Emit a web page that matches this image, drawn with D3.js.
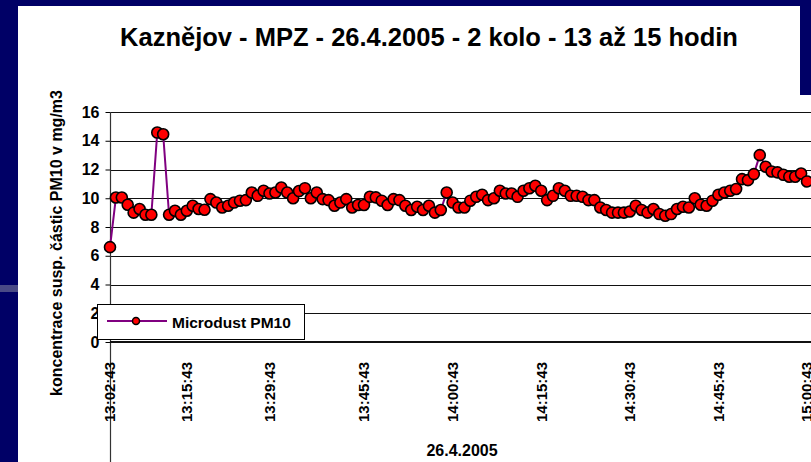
<!DOCTYPE html>
<html>
<head>
<meta charset="utf-8">
<script src="https://cdn.jsdelivr.net/npm/d3@7"></script>
<style>
  body { margin: 0; background: #fff; }
  text { font-family: Arial, "Liberation Sans", sans-serif; font-weight: bold; fill: #000; }
</style>
</head>
<body>
<svg id="chart"></svg>
<script>
// measurement times (one per minute)
const times = [
  "13:02:43","13:03:43","13:04:43","13:05:43","13:06:43","13:07:43","13:08:43","13:09:43","13:10:43","13:11:43",
  "13:12:43","13:13:43","13:14:43","13:15:43","13:16:43","13:17:43","13:18:43","13:19:43","13:20:43","13:21:43",
  "13:22:43","13:23:43","13:24:43","13:25:43","13:26:43","13:27:43","13:28:43","13:29:43","13:30:43","13:31:43",
  "13:32:43","13:33:43","13:34:43","13:35:43","13:36:43","13:37:43","13:38:43","13:39:43","13:40:43","13:41:43",
  "13:42:43","13:43:43","13:44:43","13:45:43","13:46:43","13:47:43","13:48:43","13:49:43","13:50:43","13:51:43",
  "13:52:43","13:53:43","13:54:43","13:55:43","13:56:43","13:57:43","13:58:43","13:59:43","14:00:43","14:01:43",
  "14:02:43","14:03:43","14:04:43","14:05:43","14:06:43","14:07:43","14:08:43","14:09:43","14:10:43","14:11:43",
  "14:12:43","14:13:43","14:14:43","14:15:43","14:16:43","14:17:43","14:18:43","14:19:43","14:20:43","14:21:43",
  "14:22:43","14:23:43","14:24:43","14:25:43","14:26:43","14:27:43","14:28:43","14:29:43","14:30:43","14:31:43",
  "14:32:43","14:33:43","14:34:43","14:35:43","14:36:43","14:37:43","14:38:43","14:39:43","14:40:43","14:41:43",
  "14:42:43","14:43:43","14:44:43","14:45:43","14:46:43","14:47:43","14:48:43","14:49:43","14:50:43","14:51:43",
  "14:52:43","14:53:43","14:54:43","14:55:43","14:56:43","14:57:43","14:58:43","14:59:43","15:00:43"
];

// Microdust PM10
const pm10 = [
  6.6, 10.05, 10.05, 9.55, 9.0, 9.25, 8.85, 8.85, 14.57, 14.45,
  8.85, 9.13, 8.85, 9.13, 9.48, 9.25, 9.2, 9.94, 9.7, 9.36,
  9.48, 9.7, 9.83, 9.87, 10.4, 10.17, 10.52, 10.33, 10.4, 10.75,
  10.4, 10.0, 10.5, 10.7, 10.0, 10.4, 9.94, 9.87, 9.48, 9.7,
  9.94, 9.36, 9.53, 9.53, 10.1, 10.06, 9.83, 9.53, 9.94, 9.87,
  9.48, 9.18, 9.41, 9.18, 9.48, 9.0, 9.18, 10.4, 9.7, 9.36,
  9.36, 9.83, 10.1, 10.24, 9.87, 10.0, 10.52, 10.33, 10.33, 10.1,
  10.52, 10.7, 10.87, 10.52, 9.87, 10.17, 10.7, 10.52, 10.17, 10.17,
  10.1, 9.87, 9.87, 9.36, 9.18, 9.0, 9.0, 9.0, 9.08, 9.48,
  9.18, 9.0, 9.25, 8.9, 8.78, 8.9, 9.25, 9.41, 9.36, 10.0,
  9.55, 9.48, 9.83, 10.24, 10.4, 10.52, 10.64, 11.33, 11.26, 11.68,
  13.0, 12.19, 11.86, 11.8, 11.63, 11.5, 11.5, 11.72, 11.17
];

const timeLabels = ["13:02:43","13:15:43","13:29:43","13:45:43","14:00:43","14:15:43","14:30:43","14:45:43","15:00:43"];
const yTicks = [0, 2, 4, 6, 8, 10, 12, 14, 16];

const title = "Kaznějov - MPZ - 26.4.2005 - 2 kolo - 13 až 15 hodin";
const yTitle = "koncentrace susp. částic PM10 v mg/m3";
const xTitle = "26.4.2005";
const seriesName = "Microdust PM10";

const W = 811, H = 462;
const BLUE = "#000066";

const svg = d3.select("#chart").attr("width", W).attr("height", H);

svg.append("rect").attr("width", W).attr("height", H).attr("fill", "#fff");

const x = d3.scalePoint().domain(times).range([110, 807]);
const y = d3.scaleLinear().domain([0, 16]).range([342, 112]);

// title
svg.append("text")
  .attr("x", 429).attr("y", 46)
  .attr("text-anchor", "middle")
  .style("font-size", "25.5px")
  .text(title);

// gridlines
svg.append("g").selectAll("line")
  .data(yTicks.filter(d => d > 0))
  .join("line")
  .attr("x1", 110).attr("x2", W)
  .attr("y1", d => Math.round(y(d)) + 0.5).attr("y2", d => Math.round(y(d)) + 0.5)
  .attr("stroke", "#111").attr("stroke-width", 1);

// y axis
const yAxis = svg.append("g").attr("transform", "translate(110.5,0)")
  .call(d3.axisLeft(y).tickValues(yTicks).tickSize(5).tickPadding(6));
yAxis.select(".domain").remove();
yAxis.selectAll(".tick line").attr("stroke", "#000");
yAxis.selectAll(".tick text").style("font-size", "16px").attr("font-family", null);

svg.append("line")
  .attr("x1", 110.5).attr("x2", 110.5).attr("y1", y(16)).attr("y2", H)
  .attr("stroke", "#333").attr("stroke-width", 1.2);

// x axis baseline
svg.append("line")
  .attr("x1", 110).attr("x2", W).attr("y1", y(0)).attr("y2", y(0))
  .attr("stroke", "#111").attr("stroke-width", 2);

// x tick labels
svg.append("g").selectAll("text")
  .data(timeLabels)
  .join("text")
  .attr("transform", d => `translate(${x(d)},362) rotate(-90)`)
  .attr("dy", "0.36em")
  .attr("text-anchor", "end")
  .style("font-size", "15px")
  .text(d => d);

// axis titles
svg.append("text")
  .attr("transform", "translate(56,243) rotate(-90)")
  .attr("dy", "0.35em")
  .attr("text-anchor", "middle")
  .style("font-size", "16px")
  .text(yTitle);

svg.append("text")
  .attr("x", 462).attr("y", 456)
  .attr("text-anchor", "middle")
  .style("font-size", "16px")
  .text(xTitle);

// series
const line = d3.line()
  .x((d, i) => x(times[i]))
  .y(d => y(d));

svg.append("path")
  .datum(pm10)
  .attr("d", line)
  .attr("fill", "none")
  .attr("stroke", "#800080")
  .attr("stroke-width", 2);

svg.append("g").selectAll("circle")
  .data(pm10)
  .join("circle")
  .attr("cx", (d, i) => x(times[i]))
  .attr("cy", d => y(d))
  .attr("r", 5.5)
  .attr("fill", "#ff0000")
  .attr("stroke", "#000")
  .attr("stroke-width", 1.6);

// legend
const lg = svg.append("g");
lg.append("rect")
  .attr("x", 97.5).attr("y", 304.5).attr("width", 207).attr("height", 35)
  .attr("fill", "#fff").attr("stroke", "#000").attr("stroke-width", 1);
lg.append("line")
  .attr("x1", 107).attr("x2", 167).attr("y1", 321).attr("y2", 321)
  .attr("stroke", "#800080").attr("stroke-width", 2);
lg.append("circle")
  .attr("cx", 136).attr("cy", 321).attr("r", 3.5)
  .attr("fill", "#ff0000").attr("stroke", "#000").attr("stroke-width", 1.5);
lg.append("text")
  .attr("x", 172).attr("y", 328)
  .style("font-size", "15.5px")
  .text(seriesName);

// slide background edges
svg.append("rect").attr("x", 0).attr("y", 0).attr("width", 18).attr("height", H).attr("fill", BLUE);
svg.append("rect").attr("x", 0).attr("y", 0).attr("width", W).attr("height", 6).attr("fill", BLUE);
svg.append("rect").attr("x", 800).attr("y", 0).attr("width", 11).attr("height", 95).attr("fill", BLUE);
svg.append("rect").attr("x", 0).attr("y", 285).attr("width", 18).attr("height", 7).attr("fill", "#4a4a86");
</script>
</body>
</html>
